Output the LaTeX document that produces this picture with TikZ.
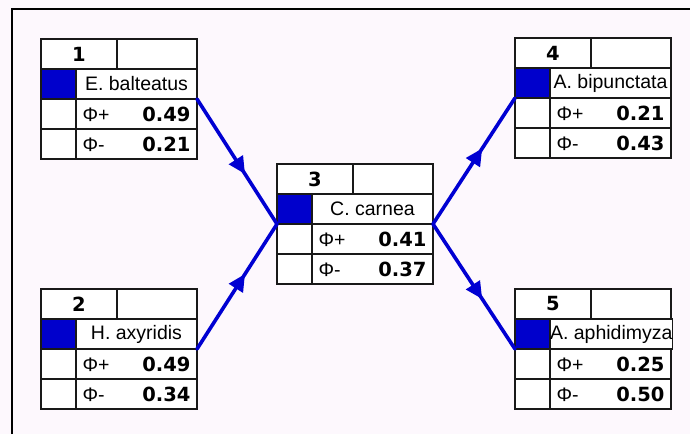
\documentclass[tikz,border=0pt]{standalone}
\usepackage{fontspec}
\setmainfont{Liberation Sans}
\newfontfamily\valfont{DejaVu Sans}
\usetikzlibrary{arrows.meta,decorations.markings}
\definecolor{canvas}{RGB}{253,248,253}
\definecolor{cellblue}{RGB}{0,0,204}
\definecolor{linkblue}{RGB}{0,0,210}
\tikzset{
  cell/.style={draw=black!90, line width=1.3pt, fill=white, inner sep=0pt, outer sep=0pt, anchor=north west,
    font=\fontsize{19.5}{21}\selectfont},
  numcell/.style={cell, minimum width=76pt, minimum height=30pt, font=\fontsize{19.5}{21}\selectfont\valfont\bfseries},
  emptyhead/.style={cell, minimum width=80pt, minimum height=30pt},
  bluecell/.style={cell, fill=cellblue, minimum width=35pt, minimum height=30pt},
  sidecell/.style={cell, minimum width=35pt, minimum height=30pt},
  namecell/.style={cell, minimum width=121pt, minimum height=30pt},
  valcell/.style={cell, minimum width=121pt, minimum height=30pt, text width=108pt, inner xsep=6.5pt, align=left},
  link/.style={draw=linkblue, line width=3.6pt, line cap=round,
    postaction={decorate, decoration={markings, mark=at position 0.6 with {\arrow{Triangle[length=17pt,width=16pt]}}}}}
}
\newcommand\sptable[7]{%
  \node[numcell] (#1h) at (#2,#3) {#4};
  \node[emptyhead] (#1e) at (#2+76,#3) {};
  \node[bluecell] (#1b) at (#2,#3+30) {};
  \node[namecell] (#1n) at (#2+35,#3+30) {#5};
  \node[sidecell] (#1c) at (#2,#3+60) {};
  \node[valcell] (#1p) at (#2+35,#3+60) {Φ+\hfill{\valfont\bfseries #6}};
  \node[sidecell] (#1d) at (#2,#3+90) {};
  \node[valcell] (#1m) at (#2+35,#3+90) {Φ-\hfill{\valfont\bfseries #7}};
}
\begin{document}
\begin{tikzpicture}[x=1pt,y=-1pt]
\fill[canvas] (0,0) rectangle (690,434);
\useasboundingbox (0,0) rectangle (690,434);
\draw[black, line width=2pt] (12,434) -- (12,9) -- (690,9);
\sptable{t1}{41}{39}{1}{E. balteatus}{0.49}{0.21}
\sptable{t2}{41}{289}{2}{H. axyridis}{0.49}{0.34}
\sptable{t3}{277}{164}{3}{C. carnea}{0.41}{0.37}
\sptable{t4}{515}{38}{4}{A. bipunctata}{0.21}{0.43}
\sptable{t5}{515}{289}{5}{A. aphidimyza}{0.25}{0.50}
\path[link] (t1n.south east) -- (t3b.south west);
\path[link] (t2n.south east) -- (t3b.south west);
\path[link] (t3n.south east) -- (t4b.south west);
\path[link] (t3n.south east) -- (t5b.south west);
\end{tikzpicture}
\end{document}
